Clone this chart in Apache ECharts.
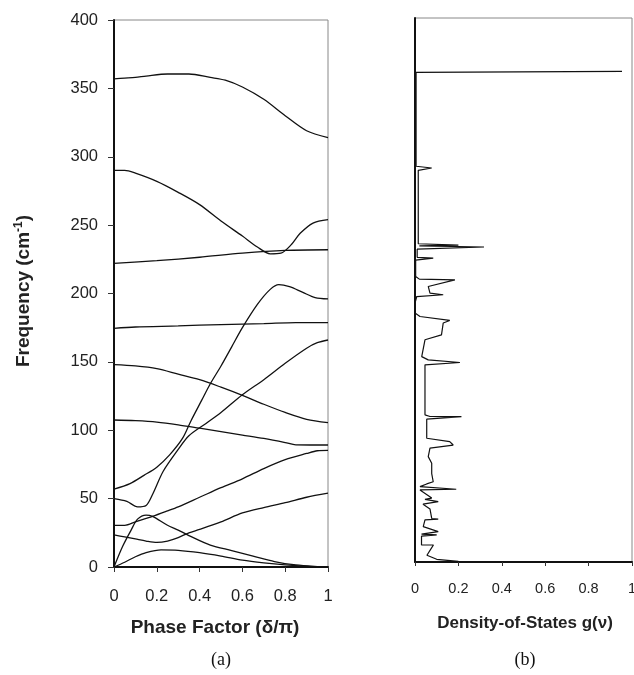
<!DOCTYPE html>
<html>
<head>
<meta charset="utf-8">
<script src="https://cdn.jsdelivr.net/npm/echarts@6/dist/echarts.min.js"></script>
<style>
html,body{margin:0;padding:0;background:#fff;}
#chart{width:634px;height:675px;}
</style>
</head>
<body>
<div id="chart"></div>
<script>
// Panel (a): phonon dispersion branches [phase factor, frequency]
const branch1 = [[0,357],[0.05,357.5],[0.1,358],[0.15,359],[0.25,360.5],[0.35,360.5],[0.45,358],[0.52,356],[0.6,351],[0.7,342],[0.8,330],[0.9,319],[1,314]];
const branch2 = [[0,290],[0.05,290],[0.1,288],[0.2,282],[0.3,274],[0.4,265],[0.5,253],[0.6,242],[0.67,234],[0.73,229],[0.78,229.5],[0.83,236],[0.87,244],[0.93,251.5],[1,254]];
const branch3 = [[0,222],[0.2,224],[0.4,226.5],[0.6,229.5],[0.8,231.5],[1,232]];
const branch4 = [[0,174.5],[0.1,175.5],[0.3,176.3],[0.5,177.3],[0.7,178],[0.85,178.7],[1,178.7]];
const branch5 = [[0,57],[0.075,61],[0.14,67],[0.2,73],[0.26,82],[0.32,94],[0.36,107],[0.41,122],[0.45,134],[0.5,147],[0.55,161],[0.6,175],[0.67,192],[0.73,203],[0.77,206.5],[0.82,205],[0.88,201],[0.94,197],[1,196]];
const branch6 = [[0,50],[0.06,48],[0.11,44],[0.15,45],[0.18,53],[0.23,70],[0.3,86],[0.35,96],[0.43,105],[0.5,113],[0.6,126],[0.7,137],[0.8,149],[0.9,160],[0.95,164],[1,166]];
const branch7 = [[0,148],[0.1,147],[0.2,145],[0.3,141],[0.4,137],[0.5,131.5],[0.6,125.5],[0.7,119],[0.8,113],[0.9,108],[1,105.5]];
const branch8 = [[0,107.5],[0.1,107],[0.2,106],[0.3,104],[0.4,101.5],[0.5,99],[0.6,96.5],[0.7,94],[0.8,91],[0.85,89.3],[1,89.2]];
const branch9 = [[0,30.5],[0.05,30.5],[0.1,33],[0.18,37],[0.25,41],[0.3,44],[0.4,51],[0.5,58],[0.6,64.5],[0.7,72],[0.8,78.5],[0.9,83],[0.95,85],[1,85.3]];
const branch10 = [[0,23.5],[0.05,22],[0.1,20.5],[0.15,19],[0.2,18],[0.25,19],[0.3,21.5],[0.35,25],[0.4,27.5],[0.5,33],[0.6,39.5],[0.7,43.5],[0.8,47],[0.9,51],[1,54]];
const branch11 = [[0,0],[0.04,15],[0.08,27],[0.11,35],[0.15,38],[0.18,37],[0.25,30.5],[0.3,27],[0.35,23],[0.45,16],[0.55,12],[0.65,8],[0.75,4],[0.85,1.5],[0.95,0.3],[1,0]];
const branch12 = [[0,0],[0.05,3.5],[0.1,7.5],[0.15,10.5],[0.22,12.5],[0.3,12.2],[0.4,10.5],[0.5,8],[0.6,5],[0.7,3],[0.8,1.5],[0.9,0.5],[1,0]];
const branches = [branch1,branch2,branch3,branch4,branch5,branch6,branch7,branch8,branch9,branch10,branch11,branch12];

// Panel (b): density of states [g(v), frequency]
const dos = [[0.2,0.5],[0.1,2],[0.055,5],[0.075,10],[0.085,12.5],[0.03,12.5],[0.03,19],[0.1,20],[0.03,20.5],[0.107,22.3],[0.038,26],[0.046,31],[0.107,31.5],[0.077,32],[0.069,39],[0.037,42.5],[0.107,44.4],[0.046,46],[0.077,47],[0.023,53],[0.19,53.5],[0.023,55.4],[0.054,57.4],[0.084,59],[0.077,65],[0.077,72.6],[0.061,77.5],[0.069,83.7],[0.176,86],[0.16,88.5],[0.054,91],[0.054,105],[0.214,106.9],[0.069,107],[0.046,108.2],[0.046,145],[0.207,146.7],[0.061,148.6],[0.031,151],[0.046,163.4],[0.122,167],[0.13,175.7],[0.16,177.6],[0.023,180.5],[0,183],[0,190.4],[0.008,195.2],[0.13,196.5],[0.069,197.7],[0.061,202.6],[0.184,207.5],[0.02,208],[0.003,210],[0.003,222],[0.084,223.5],[0.01,224],[0.01,230],[0.318,231.6],[0.02,232.5],[0.2,233],[0.015,234],[0.015,253],[0.022,254],[0.015,255],[0.015,288],[0.077,289.7],[0.005,291],[0.005,360],[0.954,360.8]];

const chart = echarts.init(document.getElementById('chart'), null, {renderer:'canvas'});
const FONT = 'Liberation Sans, Arial, sans-serif';

const series = branches.map(b => ({
  type:'line', xAxisIndex:0, yAxisIndex:0, data:b, symbol:'none', smooth:0.3,
  lineStyle:{color:'#111', width:1.3}, silent:true, animation:false
}));
series.push({
  type:'line', xAxisIndex:1, yAxisIndex:1, data:dos, symbol:'none',
  lineStyle:{color:'#111', width:1.2}, silent:true, animation:false
});

chart.setOption({
  animation:false,
  backgroundColor:'#fff',
  grid:[
    {left:114, top:20, width:214, height:547, show:true, borderColor:'#888', borderWidth:1, containLabel:false, outerBoundsMode:'none'},
    {left:415, top:18, width:217, height:544, show:true, borderColor:'#888', borderWidth:1, containLabel:false, outerBoundsMode:'none'}
  ],
  xAxis:[
    {type:'value', gridIndex:0, min:0, max:1, interval:0.2,
     axisLine:{lineStyle:{color:'#111', width:2}},
     axisTick:{show:true, length:5, lineStyle:{color:'#333'}},
     axisLabel:{fontSize:16.5, color:'#222', fontFamily:FONT, margin:21},
     splitLine:{show:false}},
    {type:'value', gridIndex:1, min:0, max:1, interval:0.2,
     axisLine:{lineStyle:{color:'#111', width:2}},
     axisTick:{show:true, length:4, lineStyle:{color:'#333'}},
     axisLabel:{fontSize:14.5, color:'#222', fontFamily:FONT, margin:19},
     splitLine:{show:false}}
  ],
  yAxis:[
    {type:'value', gridIndex:0, min:0, max:400, interval:50,
     axisLine:{show:true, lineStyle:{color:'#111', width:2}},
     axisTick:{show:true, length:6, lineStyle:{color:'#333'}},
     axisLabel:{fontSize:16.5, color:'#222', fontFamily:FONT, margin:16},
     splitLine:{show:false}},
    {type:'value', gridIndex:1, min:0, max:400, interval:50,
     axisLine:{show:true, lineStyle:{color:'#111', width:2}},
     axisTick:{show:false}, axisLabel:{show:false},
     splitLine:{show:false}}
  ],
  graphic:[
    {type:'text', x:24, y:291, rotation:Math.PI/2,
     style:{text:'Frequency (cm{sup|-1})', font:'bold 19px '+FONT, fill:'#222', textAlign:'center', textVerticalAlign:'middle',
       rich:{sup:{font:'bold 12px '+FONT, fill:'#222', padding:[0,0,10,0]}}}},
    {type:'text', x:215, y:628, style:{text:'Phase Factor (\u03B4/\u03C0)', font:'bold 19px '+FONT, fill:'#222', textAlign:'center', textVerticalAlign:'middle'}},
    {type:'text', x:525, y:623, style:{text:'Density-of-States g(\u03BD)', font:'bold 17px '+FONT, fill:'#222', textAlign:'center', textVerticalAlign:'middle'}},
    {type:'text', x:221, y:660, style:{text:'(a)', font:'18px Liberation Serif, Times New Roman, serif', fill:'#111', textAlign:'center', textVerticalAlign:'middle'}},
    {type:'text', x:525, y:660, style:{text:'(b)', font:'18px Liberation Serif, Times New Roman, serif', fill:'#111', textAlign:'center', textVerticalAlign:'middle'}}
  ],
  series:series
});
</script>
</body>
</html>
